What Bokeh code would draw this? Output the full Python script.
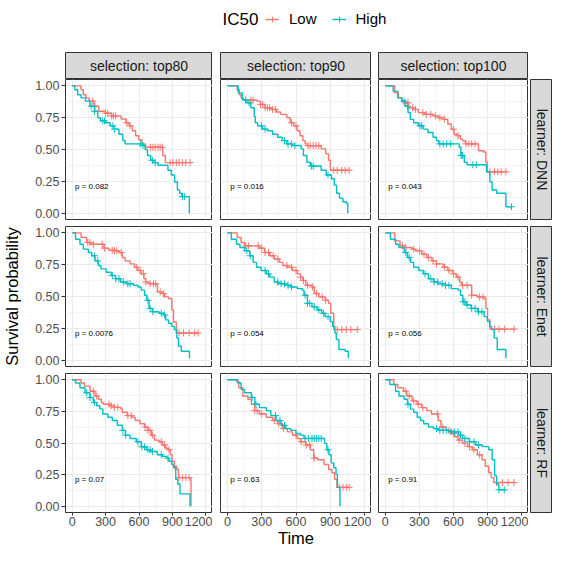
import numpy as np
from bokeh.plotting import figure
from bokeh.layouts import gridplot, column
from bokeh.models import (Range1d, LinearAxis, FixedTicker, Grid, Legend, LegendItem,
                          Label, NumeralTickFormatter)
from bokeh.core.properties import value
from bokeh.embed import file_html
from bokeh.resources import INLINE

# ---------------- data ----------------
selections = ["top80", "top90", "top100"]
learners = ["DNN", "Enet", "RF"]
groups = ["Low", "High"]
pvals = [["0.082", "0.016", "0.043"],
         ["0.0076", "0.054", "0.056"],
         ["0.07", "0.63", "0.91"]]

x_ticks = [0, 300, 600, 900, 1200]
x_tick_labels = ["0", "300", "600", "900", "1200"]
x_minor = [150, 450, 750, 1050]
y_ticks = [0.0, 0.25, 0.5, 0.75, 1.0]
y_tick_labels = ["0.00", "0.25", "0.50", "0.75", "1.00"]
y_minor = [0.125, 0.375, 0.625, 0.875]

# DNN / top80
dnn_top80_low_t = [0, 80, 100, 124, 152, 196, 239, 296, 354, 440, 483, 512, 541, 569, 598, 627, 656, 814, 837, 1058]
dnn_top80_low_s = [1.0, .97, .93, .906, .88, .84, .80, .785, .764, .74, .71, .686, .647, .608, .577, .544, .518, .453, .397, .397]
dnn_top80_low_c = [185, 205, 300, 320, 355, 372, 390, 490, 520, 705, 725, 745, 770, 790, 810, 880, 905, 935, 960, 990, 1020, 1058]
dnn_top80_high_t = [0, 23, 50, 80, 120, 160, 200, 230, 255, 300, 340, 380, 420, 455, 475, 635, 655, 676, 705, 735, 770, 860, 890, 920, 945, 965, 985, 1052]
dnn_top80_high_s = [1.0, .97, .93, .906, .88, .84, .80, .75, .725, .71, .686, .66, .62, .57, .544, .531, .50, .453, .415, .397, .376, .337, .30, .245, .182, .156, .13, 0.0]
dnn_top80_high_c = [170, 200, 275, 290, 365, 380, 615, 635, 720, 745, 990, 1010]

# DNN / top90
dnn_top90_low_t = [0, 86, 105, 120, 140, 259, 290, 330, 390, 430, 465, 520, 550, 580, 610, 635, 660, 680, 700, 820, 860, 885, 900, 1064]
dnn_top90_low_s = [1.0, .97, .93, .906, .888, .88, .854, .828, .815, .795, .776, .75, .71, .686, .647, .608, .57, .544, .53, .505, .466, .415, .337, .337]
dnn_top90_low_c = [205, 225, 290, 310, 330, 350, 370, 395, 420, 560, 600, 705, 725, 750, 775, 800, 930, 960, 1000, 1030, 1064]
dnn_top90_high_t = [0, 95, 130, 170, 205, 235, 244, 265, 305, 350, 395, 440, 480, 520, 565, 645, 665, 695, 725, 820, 865, 910, 935, 955, 980, 1010, 1040, 1053]
dnn_top90_high_s = [1.0, .945, .89, .867, .828, .76, .71, .686, .66, .647, .62, .596, .57, .544, .531, .505, .453, .40, .37, .337, .30, .27, .22, .156, .118, .09, .078, 0.0]
dnn_top90_high_c = [160, 190, 300, 330, 500, 530, 560, 590, 735, 750, 880]

# DNN / top100
dnn_top100_low_t = [0, 83, 115, 145, 175, 205, 245, 290, 345, 420, 465, 520, 550, 580, 605, 635, 660, 680, 705, 820, 865, 885, 898, 1061]
dnn_top100_low_s = [1.0, .945, .906, .88, .867, .828, .815, .79, .776, .764, .75, .737, .70, .66, .62, .608, .583, .57, .544, .49, .48, .40, .325, .325]
dnn_top100_low_c = [175, 200, 240, 265, 330, 360, 400, 440, 480, 520, 600, 640, 710, 735, 760, 790, 920, 960, 990, 1020, 1061]
dnn_top100_high_t = [0, 69, 110, 145, 175, 200, 220, 250, 290, 335, 375, 420, 450, 470, 650, 665, 695, 720, 890, 920, 940, 980, 1061, 1110]
dnn_top100_high_s = [1.0, .957, .906, .88, .84, .79, .737, .71, .686, .66, .634, .596, .57, .544, .518, .453, .40, .38, .324, .246, .182, .156, .05, .05]
dnn_top100_high_c = [165, 195, 305, 320, 480, 510, 540, 575, 668, 680, 770, 800, 1110]

# Enet / top80
enet_top80_low_t = [0, 80, 130, 170, 285, 330, 375, 420, 450, 475, 520, 560, 590, 620, 645, 660, 690, 765, 805, 830, 865, 895, 910, 935, 1135]
enet_top80_low_s = [1.0, .963, .924, .91, .88, .864, .86, .846, .807, .78, .756, .73, .704, .678, .64, .614, .60, .536, .523, .497, .484, .394, .30, .213, .213]
enet_top80_low_c = [140, 160, 190, 270, 290, 360, 380, 400, 440, 580, 610, 640, 660, 700, 730, 750, 790, 820, 960, 1000, 1050, 1100, 1130]
enet_top80_high_t = [0, 30, 70, 100, 145, 175, 205, 235, 258, 305, 350, 390, 435, 490, 550, 590, 620, 650, 670, 690, 720, 780, 820, 840, 865, 895, 918, 940, 955, 980, 1053]
enet_top80_high_s = [1.0, .95, .91, .872, .846, .82, .78, .743, .717, .69, .665, .64, .614, .60, .588, .575, .55, .51, .47, .407, .38, .368, .355, .316, .29, .265, .24, .174, .11, .07, .015]
enet_top80_high_c = [200, 230, 360, 390, 420, 460, 500, 520, 680, 700, 725, 800, 830]

# Enet / top90
enet_top90_low_t = [0, 86, 120, 150, 280, 325, 370, 410, 455, 485, 525, 570, 610, 640, 660, 685, 740, 760, 800, 855, 885, 903, 930, 1136]
enet_top90_low_s = [1.0, .963, .924, .898, .88, .846, .82, .795, .768, .743, .73, .704, .678, .652, .626, .588, .575, .523, .497, .47, .446, .368, .24, .24]
enet_top90_low_c = [160, 185, 270, 300, 330, 360, 400, 440, 520, 560, 600, 640, 665, 700, 745, 780, 830, 860, 960, 1000, 1040, 1080, 1136]
enet_top90_high_t = [0, 35, 80, 110, 150, 195, 225, 255, 295, 340, 370, 410, 450, 510, 555, 610, 655, 670, 700, 740, 785, 825, 855, 900, 920, 940, 952, 975, 1030, 1058]
enet_top90_high_s = [1.0, .95, .91, .885, .86, .82, .768, .73, .704, .678, .652, .613, .60, .588, .575, .562, .55, .51, .446, .42, .394, .368, .342, .304, .265, .213, .162, .084, .07, .015]
enet_top90_high_c = [170, 200, 330, 360, 440, 470, 500, 530, 560, 680, 700, 720, 760, 800, 840, 880]

# Enet / top100
enet_top100_low_t = [0, 83, 130, 175, 235, 265, 320, 365, 410, 450, 510, 550, 595, 625, 655, 670, 760, 810, 870, 885, 900, 920, 1133]
enet_top100_low_s = [1.0, .937, .898, .885, .872, .86, .833, .807, .78, .756, .73, .704, .678, .652, .614, .588, .51, .497, .484, .407, .316, .244, .244]
enet_top100_low_c = [150, 180, 250, 300, 340, 380, 420, 450, 520, 560, 600, 640, 680, 720, 760, 830, 860, 960, 1000, 1050, 1133]
enet_top100_high_t = [0, 45, 90, 120, 165, 195, 222, 250, 295, 335, 380, 425, 465, 525, 580, 640, 662, 682, 710, 755, 812, 870, 898, 920, 935, 958, 985, 1061]
enet_top100_high_s = [1.0, .95, .91, .885, .846, .807, .768, .73, .704, .678, .64, .614, .60, .588, .562, .55, .51, .459, .433, .407, .38, .342, .304, .265, .24, .175, .084, .015]
enet_top100_high_c = [180, 210, 350, 400, 430, 460, 500, 530, 560, 685, 700, 720, 760, 790, 820, 850]

# RF / top80
rf_top80_low_t = [0, 80, 110, 160, 205, 235, 262, 278, 335, 380, 435, 450, 495, 535, 565, 610, 650, 680, 710, 738, 780, 810, 840, 865, 882, 897, 918, 940, 955, 1067]
rf_top80_low_s = [1.0, .975, .95, .91, .872, .846, .82, .807, .795, .782, .77, .743, .717, .704, .678, .652, .627, .60, .562, .523, .51, .484, .459, .446, .407, .355, .316, .29, .226, 0.0]
rf_top80_low_c = [190, 220, 330, 350, 380, 410, 500, 530, 655, 680, 700, 720, 800, 830, 870, 960, 990, 1020, 1050]
rf_top80_high_t = [0, 30, 70, 115, 160, 190, 220, 248, 275, 320, 360, 405, 450, 478, 520, 575, 620, 665, 705, 765, 810, 850, 868, 895, 910, 930, 948, 968, 1058]
rf_top80_high_s = [1.0, .975, .937, .898, .86, .82, .795, .77, .73, .704, .678, .64, .60, .562, .536, .51, .47, .446, .433, .407, .394, .38, .355, .33, .304, .213, .175, .097, 0.0]
rf_top80_high_c = [130, 160, 200, 455, 480, 590, 625, 650, 680, 700, 720, 800, 860]

# RF / top90
rf_top90_low_t = [0, 75, 100, 135, 180, 210, 238, 280, 340, 395, 440, 480, 525, 570, 610, 640, 685, 725, 755, 790, 845, 885, 915, 938, 958, 1064]
rf_top90_low_s = [1.0, .99, .937, .872, .846, .807, .756, .73, .704, .678, .652, .614, .588, .562, .536, .51, .484, .446, .381, .368, .33, .29, .265, .213, .149, .149]
rf_top90_low_c = [240, 260, 300, 410, 450, 490, 600, 645, 690, 720, 760, 980, 1010, 1040, 1064]
rf_top90_high_t = [0, 90, 120, 150, 210, 240, 280, 340, 380, 425, 470, 510, 555, 600, 640, 670, 850, 870, 888, 908, 930, 950, 962, 984]
rf_top90_high_s = [1.0, .975, .924, .898, .86, .807, .78, .756, .717, .678, .64, .614, .60, .575, .562, .536, .497, .446, .407, .343, .304, .252, .149, 0.0]
rf_top90_high_c = [215, 250, 420, 460, 500, 680, 710, 740, 760, 780, 800, 820, 880]

# RF / top100
rf_top100_low_t = [0, 75, 110, 160, 190, 235, 280, 320, 365, 405, 465, 490, 535, 580, 610, 640, 680, 725, 765, 810, 850, 880, 910, 932, 955, 1133]
rf_top100_low_s = [1.0, .963, .937, .91, .872, .833, .807, .78, .756, .73, .678, .627, .60, .575, .55, .523, .497, .471, .446, .407, .368, .316, .265, .226, .187, .187]
rf_top100_low_c = [180, 210, 250, 290, 330, 460, 500, 560, 600, 650, 700, 740, 780, 830, 980, 1030, 1080, 1133]
rf_top100_high_t = [0, 40, 90, 120, 165, 195, 222, 250, 280, 310, 338, 380, 425, 465, 560, 645, 680, 740, 795, 855, 910, 940, 962, 980, 998, 1061]
rf_top100_high_s = [1.0, .963, .91, .872, .846, .807, .768, .743, .704, .678, .652, .627, .614, .60, .588, .562, .536, .51, .484, .471, .446, .368, .24, .175, .13, .13]
rf_top100_high_c = [200, 450, 480, 510, 540, 580, 610, 640, 662, 700, 740, 780, 820, 1000, 1047]

curves = {
    ("DNN", "top80"): [(dnn_top80_low_t, dnn_top80_low_s, dnn_top80_low_c), (dnn_top80_high_t, dnn_top80_high_s, dnn_top80_high_c)],
    ("DNN", "top90"): [(dnn_top90_low_t, dnn_top90_low_s, dnn_top90_low_c), (dnn_top90_high_t, dnn_top90_high_s, dnn_top90_high_c)],
    ("DNN", "top100"): [(dnn_top100_low_t, dnn_top100_low_s, dnn_top100_low_c), (dnn_top100_high_t, dnn_top100_high_s, dnn_top100_high_c)],
    ("Enet", "top80"): [(enet_top80_low_t, enet_top80_low_s, enet_top80_low_c), (enet_top80_high_t, enet_top80_high_s, enet_top80_high_c)],
    ("Enet", "top90"): [(enet_top90_low_t, enet_top90_low_s, enet_top90_low_c), (enet_top90_high_t, enet_top90_high_s, enet_top90_high_c)],
    ("Enet", "top100"): [(enet_top100_low_t, enet_top100_low_s, enet_top100_low_c), (enet_top100_high_t, enet_top100_high_s, enet_top100_high_c)],
    ("RF", "top80"): [(rf_top80_low_t, rf_top80_low_s, rf_top80_low_c), (rf_top80_high_t, rf_top80_high_s, rf_top80_high_c)],
    ("RF", "top90"): [(rf_top90_low_t, rf_top90_low_s, rf_top90_low_c), (rf_top90_high_t, rf_top90_high_s, rf_top90_high_c)],
    ("RF", "top100"): [(rf_top100_low_t, rf_top100_low_s, rf_top100_low_c), (rf_top100_high_t, rf_top100_high_s, rf_top100_high_c)],
}

# ---------------- style / layout ----------------
FONT = "Liberation Sans"
COLORS = ["#F8766D", "#00BFC4"]
GRID_C = "#EBEBEB"
BORDER_C = "#333333"
STRIP_FILL = "#D9D9D9"
X_LIM = (-60, 1260)
Y_LIM = (-0.05, 1.05)
PVAL_T, PVAL_S = 25, 0.21
TICK_FS = "12.5px"
TITLE_FS = "16.5px"
STRIP_FS = "14px"

col_w = [212, 159, 157, 24]
col_lb = [62, 8, 7, 2]
row_h = [144, 147, 180]
row_tb = [0, 3, 3]
row_bb = [4, 4, 38]
STRIP_H = 27
LEG_H = 52
TOTAL_W = sum(col_w)


def surv_at(t, s, c):
    t = np.asarray(t, float)
    s = np.asarray(s, float)
    c = np.asarray(c, float)
    idx = np.searchsorted(t, c, side="right") - 1
    return s[idx]


def base_fig(w, h, lb=0, tb=0, bb=0, x_range=None, y_range=None, **kw):
    return figure(width=w, height=h, x_range=x_range, y_range=y_range,
                  x_axis_type=None, y_axis_type=None, toolbar_location=None,
                  output_backend="svg", min_border_left=lb, min_border_right=0,
                  min_border_top=tb, min_border_bottom=bb, border_fill_color="white", **kw)


def strip_fig(w, h, lb, tb, bb, label, angle=0.0):
    s = base_fig(w, h, lb, tb, bb, x_range=Range1d(-1, 1), y_range=Range1d(-1, 1),
                 background_fill_color=STRIP_FILL, outline_line_color=BORDER_C,
                 outline_line_width=1)
    s.text(x=[0], y=[0], text=[label], angle=angle, text_align="center",
           text_baseline="middle", text_font=value(FONT), text_font_size=STRIP_FS,
           text_color="#1A1A1A")
    return s


def style_axis(ax):
    ax.axis_line_color = None
    ax.major_tick_line_color = BORDER_C
    ax.major_tick_in = 0
    ax.minor_tick_line_color = None
    ax.major_label_text_font = FONT
    ax.major_label_text_font_size = TICK_FS
    ax.major_label_text_color = "#4D4D4D"
    ax.axis_label_text_font = FONT
    ax.axis_label_text_font_size = TITLE_FS
    ax.axis_label_text_font_style = "normal"
    ax.axis_label_text_color = "black"


def panel(r, c):
    learner, sel = learners[r], selections[c]
    p = base_fig(col_w[c], row_h[r], col_lb[c], row_tb[r], row_bb[r],
                 x_range=Range1d(*X_LIM), y_range=Range1d(*Y_LIM),
                 background_fill_color="white", outline_line_color=BORDER_C,
                 outline_line_width=1)
    p.add_layout(Grid(dimension=0, ticker=FixedTicker(ticks=x_ticks, minor_ticks=x_minor),
                      grid_line_color=GRID_C, grid_line_width=1.1,
                      minor_grid_line_color=GRID_C, minor_grid_line_width=0.55))
    p.add_layout(Grid(dimension=1, ticker=FixedTicker(ticks=y_ticks, minor_ticks=y_minor),
                      grid_line_color=GRID_C, grid_line_width=1.1,
                      minor_grid_line_color=GRID_C, minor_grid_line_width=0.55))
    for g, (t, s, cens) in enumerate(curves[(learner, sel)]):
        p.step(x=t, y=s, mode="after", line_color=COLORS[g], line_width=1.4)
        p.scatter(x=cens, y=surv_at(t, s, cens), marker="cross", size=7,
                  line_color=COLORS[g], line_width=1)
    p.text(x=[PVAL_T], y=[PVAL_S], text=["p = " + pvals[r][c]], text_align="left",
           text_baseline="middle", text_font=value(FONT), text_font_size="8px",
           text_color="black")
    if c == 0:
        ax = LinearAxis(ticker=FixedTicker(ticks=y_ticks),
                        formatter=NumeralTickFormatter(format="0.00"),
                        major_label_overrides=dict(zip(y_ticks, y_tick_labels)))
        style_axis(ax)
        ax.major_tick_out = 4
        ax.major_label_standoff = 2
        if r == 1:
            ax.axis_label = "Survival probability"
            ax.axis_label_standoff = 11
        p.add_layout(ax, "left")
    if r == 2:
        ax = LinearAxis(ticker=FixedTicker(ticks=x_ticks),
                        major_label_overrides=dict(zip(x_ticks, x_tick_labels)))
        style_axis(ax)
        ax.major_tick_out = 3
        ax.major_label_standoff = 1
        if c == 1:
            ax.axis_label = "Time"
            ax.axis_label_standoff = 0
        p.add_layout(ax, "below")
    return p


rows = []
rows.append([strip_fig(col_w[c], STRIP_H, col_lb[c], 0, 0, "selection: " + selections[c])
             for c in range(3)] + [None])
for r in range(3):
    rows.append([panel(r, c) for c in range(3)] +
                [strip_fig(col_w[3], row_h[r], col_lb[3], row_tb[r], row_bb[r],
                           "learner: " + learners[r], angle=-np.pi / 2)])

grid = gridplot(rows, toolbar_location=None)

# legend figure (dummy renderers hold NaN so nothing is plotted; they only feed the legend)
lf = base_fig(TOTAL_W, LEG_H, x_range=Range1d(0, TOTAL_W), y_range=Range1d(0, LEG_H),
              outline_line_color=None, background_fill_color="white")
items = []
for g, name in enumerate(groups):
    ln = lf.line(x=[float("nan")], y=[float("nan")], line_color=COLORS[g], line_width=1.4)
    sc = lf.scatter(x=[float("nan")], y=[float("nan")], marker="cross", size=7,
                    line_color=COLORS[g], line_width=1)
    items.append(LegendItem(label=name, renderers=[ln, sc]))
leg = Legend(items=items, orientation="horizontal", location=(265, 25), padding=0, margin=0,
             spacing=15, glyph_width=14, glyph_height=16, label_height=16,
             label_standoff=10, border_line_color=None, background_fill_alpha=0,
             label_text_font=FONT, label_text_font_size="15px", label_text_color="black")
lf.add_layout(leg)
lf.add_layout(Label(x=258, y=33, x_units="screen", y_units="screen", text="IC50",
                    text_align="right", text_baseline="middle", text_font=FONT,
                    text_font_style="normal", text_font_size="17px", text_color="black"))

layout = column(lf, grid)
open("out.html", "w").write(file_html(layout, INLINE))
